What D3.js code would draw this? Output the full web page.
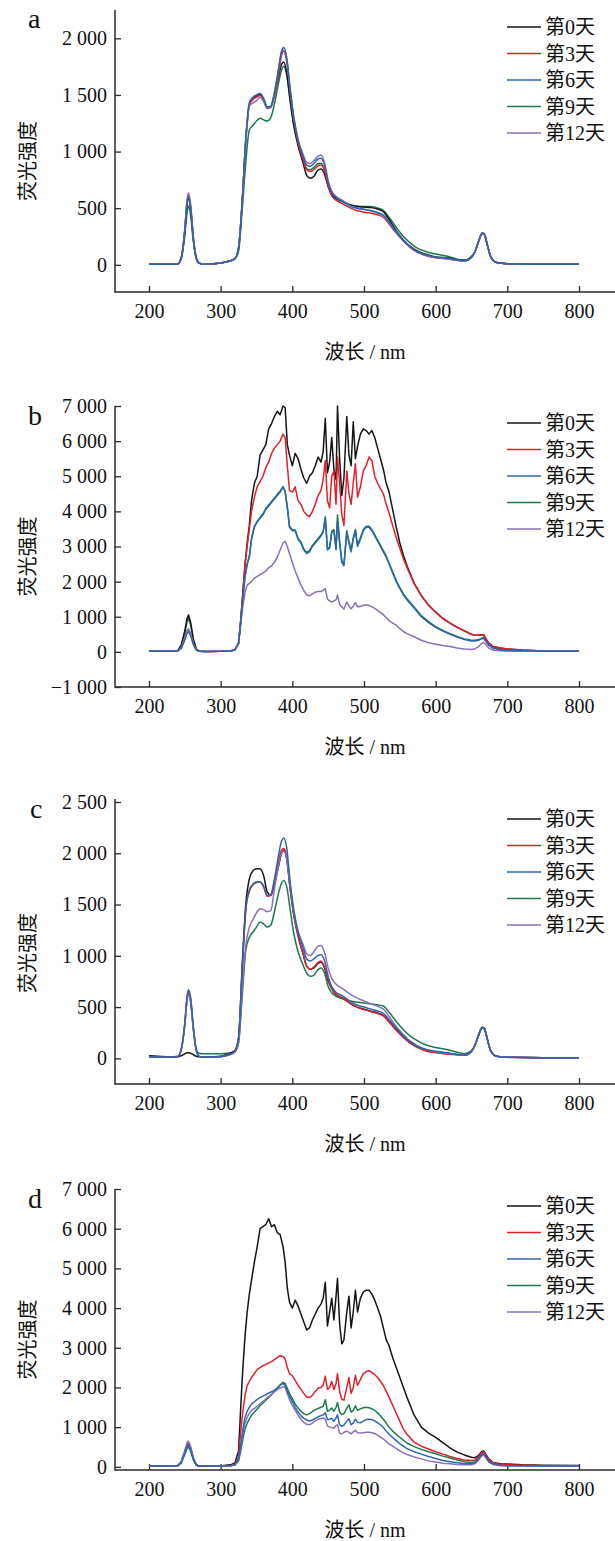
<!DOCTYPE html>
<html><head><meta charset="utf-8">
<script src="https://cdn.jsdelivr.net/npm/d3@7"></script>
<style>body{margin:0;background:#fff}svg{display:block}</style>
</head><body>
<svg id="chart" width="615" height="1541"></svg>
<script>
// ---------- DATA ----------
const wlAC = [200,230,240,245,250,253,255,258,262,266,270,275,290,310,320,325,330,335,340,345,350,355,360,365,370,375,380,385,388,392,397,402,408,415,420,425,430,435,440,445,450,455,460,470,480,490,500,510,520,527,535,545,555,565,575,585,600,620,630,640,650,655,660,665,668,672,677,685,700,750,800];

const aDay0 = [5,5,8,60,300, 530,590,500,220,60, 15,8,10,30,55, 150,550,1100,1420,1470, 1490,1505,1460,1390,1400, 1500,1640,1770,1790,1700, 1450,1230,1050,900,790, 765,780,830,845,800, 690,620,590,560,530, 515,510,505,490,470, 400,300,220,160,120, 95,70,60,45,40, 70,120,210,280,270, 180,70,20,10,5, 5];
const aDay3 = [5,5,8,60,310, 550,610,520,230,60, 15,8,10,30,55, 150,550,1090,1410,1460, 1480,1495,1450,1380,1390, 1490,1650,1850,1890,1800, 1520,1280,1080,930,840, 825,840,870,882,830, 700,610,575,540,505, 480,465,455,440,420, 360,280,210,150,110, 85,62,50,40,35, 65,115,205,275,265, 175,65,20,10,5, 5];
const aDay6 = [5,5,8,60,305, 545,600,510,225,60, 15,8,10,30,55, 150,560,1110,1430,1480, 1500,1512,1470,1395,1400, 1520,1700,1880,1918,1830, 1550,1300,1100,960,880, 870,895,930,940,880, 730,640,600,560,520, 500,490,480,460,440, 380,290,215,155,115, 90,68,55,42,35, 68,118,210,282,270, 180,70,20,10,5, 5];
const aDay9 = [5,5,8,55,260, 450,520,440,200,55, 15,8,10,30,55, 120,480,900,1190,1230, 1270,1295,1280,1270,1300, 1420,1580,1720,1753,1680, 1450,1240,1070,930,850, 840,860,890,897,840, 710,630,590,560,530, 520,515,515,500,480, 420,330,250,190,145, 120,95,70,50,40, 75,120,210,275,265, 175,70,20,10,5, 5];
const aDay12 = [5,5,8,65,320, 570,637,540,240,65, 15,8,10,30,55, 150,540,1080,1400,1430, 1450,1480,1440,1380,1395, 1520,1700,1890,1918,1830, 1560,1310,1110,975,905, 895,920,955,970,900, 740,650,610,570,525, 505,490,475,455,435, 370,285,210,155,110, 85,65,50,40,35, 68,118,210,280,268, 178,68,20,10,5, 5];

const cDay0 = [25,15,15,25,45, 55,55,50,35,20, 15,15,15,40,80, 200,900,1500,1750,1830, 1850,1850,1780,1620,1590, 1700,1850,2000,2030,1950, 1650,1400,1200,1020,900, 870,880,920,940,880, 760,680,630,590,540, 500,480,460,440,420, 360,280,210,150,110, 80,60,45,35,30, 70,130,230,300,290, 190,70,20,10,5, 5];
const cDay3 = [10,10,15,85,340, 580,650,580,290,75, 20,10,10,30,70, 200,850,1440,1630,1690, 1715,1720,1670,1580,1590, 1720,1890,2030,2046,1970, 1660,1400,1190,1020,900, 870,890,930,950,890, 770,680,630,590,540, 500,475,455,435,415, 355,275,205,145,105, 75,55,40,35,30, 70,130,230,300,290, 190,70,20,10,5, 5];
const cDay6 = [10,10,15,90,350, 600,670,600,300,80, 20,10,10,30,70, 200,850,1450,1640,1700, 1720,1720,1680,1590,1600, 1750,1950,2120,2150,2060, 1720,1450,1230,1080,970, 950,970,1000,1010,950, 800,700,650,610,560, 520,500,480,460,440, 380,295,220,160,120, 90,70,50,40,30, 70,130,230,305,292, 190,70,20,10,5, 5];
const cDay9 = [20,15,20,90,330, 570,640,560,280,90, 50,45,45,50,70, 150,600,1050,1180,1230, 1280,1330,1310,1280,1300, 1430,1590,1710,1735,1680, 1450,1220,1040,910,830, 800,810,860,880,830, 700,640,610,580,560, 550,540,530,520,510, 450,360,280,215,170, 135,105,80,60,45, 75,130,225,295,285, 185,70,20,10,5, 5];
const cDay12 = [10,10,15,85,330, 560,620,550,270,75, 20,10,10,30,60, 160,650,1100,1280,1350, 1420,1460,1450,1430,1440, 1650,1850,2000,2020,1960, 1680,1430,1240,1110,1020, 1000,1040,1090,1100,1030, 880,780,730,680,630, 590,560,530,505,480, 410,310,230,165,120, 90,65,45,35,30, 70,130,230,300,290, 190,70,20,10,5, 5];

const wlBD = [200,230,240,245,250,253,255,258,262,266, 270,280,300,315,320,325,328,331,334,337, 340,343,347,351,355,359,363,367,371,375, 379,383,387,390,393,396,400,404,408,412, 416,420,424,428,432,436,440,443,446,449, 452,455,458,461,463,466,469,472,476,479, 482,485,488,491,495,499,503,507,511,515, 519,523,527,531,535,540,545,550,555,560, 570,580,590,600,610,620,630,640,650,655, 660,664,667,670,674,680,690,700,720,750, 800];

const bDay0 = [20,20,30,200,600,950,1050,850,350,80, 20,10,15,30,60,250,900,1700,2500,3100, 3600,4300,4800,5000,5600,5750,5900,6350,6500,6700, 6850,6750,7000,6950,5900,5600,5300,5650,5500,5200, 4950,4800,5000,5100,5300,5550,5400,5700,6650,5100, 5400,6100,5200,4900,7000,5500,4450,4950,6700,5600, 5300,6550,5500,5850,6200,6350,6300,6200,6300,6100, 5800,5500,5200,4800,4550,4050,3550,3100,2750,2450, 1950,1600,1330,1130,950,820,700,600,500,470, 470,490,480,380,250,150,110,80,50,25, 20];
const bDay3 = [20,20,25,120,380,580,640,520,220,60, 15,10,15,30,60,250,900,1700,2450,3000, 3500,4000,4400,4700,4850,5000,5250,5400,5650,5800, 5900,6000,6200,6100,5300,4600,4550,4700,4300,4200, 4000,3900,3850,4000,4200,4450,4600,4900,5450,4300, 4100,5000,5150,4200,5550,4800,3900,3600,5150,4500, 4200,4800,5350,4400,4700,5150,5300,5550,5450,5000, 4800,4650,4500,4200,3950,3600,3250,2950,2650,2400, 1950,1600,1330,1130,950,820,700,600,500,470, 470,490,480,380,250,150,110,80,50,25, 20];
const bDay6 = [20,20,25,100,330,520,580,470,200,50, 15,10,15,30,60,250,850,1550,2150,2500, 2700,3200,3550,3700,3800,3900,4050,4150,4250,4350, 4450,4550,4700,4550,4100,3550,3450,3450,3200,3100, 2900,2800,2850,3000,3100,3200,3300,3400,3800,2900, 2950,3400,3450,2900,3700,3100,2550,2450,3400,3100, 2850,3200,3450,3000,3200,3450,3550,3550,3450,3300, 3150,3000,2850,2700,2500,2250,2000,1800,1620,1480, 1250,1000,830,700,590,500,420,350,310,310, 330,370,380,300,190,110,60,40,30,20, 20];
const bDay9 = [20,20,30,170,540,860,960,780,320,75, 15,10,15,30,60,250,850,1550,2150,2500, 2720,3220,3570,3720,3830,3930,4080,4180,4280,4380, 4480,4580,4700,4580,4130,3580,3480,3470,3230,3130, 2930,2830,2880,3030,3130,3230,3330,3430,3850,2930, 2980,3430,3480,2950,3900,3150,2600,2500,3450,3150, 2900,3250,3480,3050,3250,3480,3580,3580,3480,3330, 3180,3030,2880,2730,2530,2280,2030,1830,1650,1510, 1280,1030,860,720,610,520,440,370,330,330, 350,390,400,320,200,120,65,45,30,20, 20];
const bDay12 = [20,20,25,120,400,600,650,530,230,60, 15,10,15,30,60,250,800,1300,1700,1900, 1950,2000,2100,2150,2200,2250,2300,2400,2450,2550, 2700,2900,3100,3150,3000,2800,2550,2300,2100,1900, 1750,1620,1600,1650,1700,1720,1720,1750,1800,1500, 1450,1420,1450,1480,1620,1350,1280,1220,1420,1300, 1230,1300,1400,1280,1300,1320,1340,1320,1280,1240, 1180,1120,1060,970,890,820,760,660,580,520, 430,330,260,220,180,150,110,80,70,90, 150,240,270,200,110,50,30,25,20,15, 15];

const dDay0 = [20,20,25,120,380,560,600,480,200,50, 15,15,20,60,100,400,1500,2500,3300,3900, 4350,4700,5150,5550,6000,6050,6100,6250,6050,6100, 5900,5850,5550,5150,4500,4150,4000,4200,4050,3850, 3650,3450,3500,3700,3850,4000,4100,4250,4650,3550, 3900,4250,3700,4300,4750,3600,3100,3200,3900,4300, 3500,3900,4450,3900,4250,4400,4450,4450,4350,4200, 4000,3800,3500,3200,3050,2750,2500,2250,2000,1750, 1300,1000,850,740,610,480,370,300,240,230, 290,380,400,320,200,110,80,70,50,40, 35];
const dDay3 = [20,20,25,120,380,560,600,480,200,50, 15,15,20,40,70,250,900,1400,1800,2050, 2150,2250,2350,2450,2500,2550,2580,2620,2650,2700, 2750,2800,2780,2720,2500,2350,2300,2180,2050,1950, 1850,1750,1750,1800,1900,1980,2000,2060,2280,1950, 2000,2150,1950,2100,2350,1900,1700,1680,2000,2250, 1850,2000,2300,2050,2200,2350,2400,2420,2380,2320, 2250,2150,2050,1900,1750,1550,1350,1150,950,820, 620,520,450,380,320,260,210,170,160,170, 250,350,380,300,180,100,60,50,40,30, 30];
const dDay6 = [20,20,25,110,350,510,550,440,190,50, 15,15,20,30,50,200,550,950,1250,1400, 1500,1580,1640,1700,1750,1780,1820,1860,1890,1930, 1990,2060,2100,2050,1900,1780,1650,1500,1380,1290, 1220,1180,1150,1180,1220,1260,1290,1310,1360,1190, 1200,1220,1150,1230,1310,1060,1020,1050,1150,1210, 1060,1100,1200,1120,1110,1150,1190,1200,1190,1160, 1110,1060,990,900,820,740,660,580,520,460, 380,320,260,210,160,130,100,80,75,100, 200,300,330,250,140,70,40,30,25,20, 20];
const dDay9 = [20,20,25,100,320,460,500,400,170,45, 15,15,20,30,50,150,400,700,950,1100, 1200,1300,1380,1460,1540,1610,1680,1750,1820,1900, 1980,2060,2130,2100,1980,1850,1720,1580,1480,1400, 1340,1310,1340,1390,1440,1470,1500,1520,1690,1400, 1430,1480,1400,1500,1620,1380,1320,1340,1480,1560, 1380,1420,1540,1420,1460,1490,1500,1490,1460,1420, 1360,1280,1200,1100,1000,900,820,740,670,600, 510,440,380,330,270,220,170,130,110,130, 220,310,330,260,150,80,50,40,30,25, 25];
const dDay12 = [20,20,25,130,410,600,650,520,220,60, 15,15,20,30,50,200,500,850,1100,1250, 1350,1420,1470,1530,1590,1650,1710,1770,1830,1890, 1950,1990,2020,2000,1850,1700,1550,1420,1300,1200, 1120,1070,1060,1100,1160,1200,1220,1230,1200,1030, 1000,990,970,1040,1060,850,830,870,900,870, 830,880,920,860,850,860,870,870,860,840, 800,750,700,640,580,520,460,400,350,310, 250,200,150,120,90,75,60,50,50,80, 180,270,300,230,120,60,30,25,20,20, 20];

const seriesNames = ["第0天","第3天","第6天","第9天","第12天"];
const seriesColors = ["#151515","#e2202c","#2d66b0","#1a7b4c","#8a70b8"];
const xTicks = [200,300,400,500,600,700,800];
const yTicksA = [0,500,1000,1500,2000];
const yLabelsA = ["0","500","1 000","1 500","2 000"];
const yTicksB = [-1000,0,1000,2000,3000,4000,5000,6000,7000];
const yLabelsB = ["\u22121 000","0","1 000","2 000","3 000","4 000","5 000","6 000","7 000"];
const yTicksC = [0,500,1000,1500,2000,2500];
const yLabelsC = ["0","500","1 000","1 500","2 000","2 500"];
const yTicksD = [0,1000,2000,3000,4000,5000,6000,7000];
const yLabelsD = ["0","1 000","2 000","3 000","4 000","5 000","6 000","7 000"];
const xTitle = "波长 / nm";
const yTitle = "荧光强度";

// ---------- LAYOUT ----------
const panels = [
  {letter:"a", lx:28, ly:28, wl:wlAC, data:[aDay0,aDay3,aDay6,aDay9,aDay12], yDomain:[-240,2250], top:10, lineTop:10, axisY:292, ticks:yTicksA, labels:yLabelsA, smooth:true},
  {letter:"b", lx:28, ly:425, wl:wlBD, data:[bDay0,bDay3,bDay6,bDay9,bDay12], yDomain:[-1000,7000], top:406, lineTop:406, axisY:687, ticks:yTicksB, labels:yLabelsB, smooth:false},
  {letter:"c", lx:30, ly:818, wl:wlAC, data:[cDay0,cDay3,cDay6,cDay9,cDay12], yDomain:[-250,2500], top:802, lineTop:799, axisY:1084, ticks:yTicksC, labels:yLabelsC, smooth:true},
  {letter:"d", lx:28, ly:1208, wl:wlBD, data:[dDay0,dDay3,dDay6,dDay9,dDay12], yDomain:[-80,7000], top:1189, lineTop:1189, axisY:1470, ticks:yTicksD, labels:yLabelsD, smooth:false}
];

const svg = d3.select("#chart");
svg.append("rect").attr("width",615).attr("height",1541).attr("fill","#fff");

const serif = "'Liberation Serif','Times New Roman','Noto Sans CJK SC',serif";
const x = d3.scaleLinear().domain([200,800]).range([149,579]);
const axisColor = "#2a2a2a";
const drawOrder = [3,0,1,4,2];

panels.forEach(p => {
  const g = svg.append("g");
  const y = d3.scaleLinear().domain(p.yDomain).range([p.axisY, p.top]);

  const ya = g.append("g").attr("transform","translate(115,0)")
    .call(d3.axisLeft(y).tickValues(p.ticks).tickSize(-6).tickSizeOuter(0).tickPadding(8)
      .tickFormat((d,i)=>p.labels[i]));
  ya.select(".domain").remove();
  ya.selectAll("line").attr("stroke",axisColor).attr("stroke-width",1.3);
  ya.selectAll("text").attr("font-family",serif).attr("font-size",20).attr("fill","#111");

  const xa = g.append("g").attr("transform",`translate(0,${p.axisY})`)
    .call(d3.axisBottom(x).tickValues(xTicks).tickSize(-6).tickSizeOuter(0).tickPadding(12));
  xa.select(".domain").remove();
  xa.selectAll("line").attr("stroke",axisColor).attr("stroke-width",1.3);
  xa.selectAll("text").attr("font-family",serif).attr("font-size",20).attr("fill","#111");

  g.append("line").attr("x1",115).attr("x2",115).attr("y1",p.lineTop).attr("y2",p.axisY+0.7)
    .attr("stroke",axisColor).attr("stroke-width",1.5);
  g.append("line").attr("x1",115).attr("x2",615).attr("y1",p.axisY).attr("y2",p.axisY)
    .attr("stroke",axisColor).attr("stroke-width",1.5);

  const line = d3.line()
    .x((d,i)=>x(p.wl[i])).y(d=>y(d))
    .curve(p.smooth ? d3.curveMonotoneX : d3.curveLinear);
  drawOrder.forEach(k => {
    g.append("path").datum(p.data[k]).attr("d",line)
      .attr("fill","none").attr("stroke",seriesColors[k])
      .attr("stroke-width",1.5).attr("stroke-linejoin","round");
  });

  seriesNames.forEach((name,i)=>{
    const ly = p.top + 17 + i*26.5;
    g.append("line").attr("x1",507).attr("x2",541).attr("y1",ly).attr("y2",ly)
      .attr("stroke",seriesColors[i]).attr("stroke-width",1.5);
    g.append("text").attr("x",545).attr("y",ly).attr("dy","0.36em")
      .attr("font-family",serif).attr("font-size",20).attr("fill","#111").text(name);
  });

  g.append("text").attr("x",365).attr("y",p.axisY+60).attr("dy","0.36em")
    .attr("text-anchor","middle").attr("font-family",serif).attr("font-size",20)
    .attr("fill","#111").text(xTitle);
  const cy = (p.top + p.axisY)/2 + 10;
  g.append("text").attr("transform",`translate(28,${cy}) rotate(-90)`).attr("dy","0.36em")
    .attr("text-anchor","middle").attr("font-family",serif).attr("font-size",20)
    .attr("fill","#111").text(yTitle);

  g.append("text").attr("x",p.lx).attr("y",p.ly).attr("font-family",serif)
    .attr("font-size",28).attr("fill","#111").text(p.letter);
});
</script>
</body></html>
